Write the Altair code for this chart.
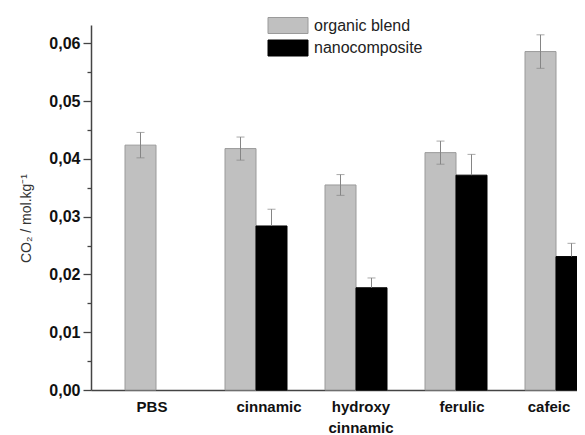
import altair as alt
import pandas as pd

cats = ["PBS", "cinnamic", "hydroxy cinnamic", "ferulic", "cafeic"]
series = ["organic blend", "nanocomposite"]

blend = [0.0424, 0.0418, 0.0355, 0.0411, 0.0586]
blend_err = [0.0022, 0.0020, 0.0018, 0.0020, 0.0029]

nano_cats = ["cinnamic", "hydroxy cinnamic", "ferulic", "cafeic"]
nano = [0.0284, 0.0177, 0.0372, 0.0231]
nano_err = [0.0029, 0.0017, 0.0036, 0.0023]

major_ticks = [0.0, 0.01, 0.02, 0.03, 0.04, 0.05, 0.06]
minor_ticks = [0.005, 0.015, 0.025, 0.035, 0.045, 0.055]

rows = []
for c, v, e in zip(cats, blend, blend_err):
    # lower whisker is visible on the light bars
    rows.append({"cat": c, "series": series[0], "val": v, "lo": v - e, "hi": v + e})
for c, v, e in zip(nano_cats, nano, nano_err):
    # lower whisker is hidden inside the black bars
    rows.append({"cat": c, "series": series[1], "val": v, "lo": v, "hi": v + e})
df = pd.DataFrame(rows)

FONT = "Liberation Sans"

label_shift = {
    "condition": [
        {"test": "datum.value == 'PBS'", "value": -4},
        {"test": "datum.value == 'cinnamic'", "value": 13},
        {"test": "datum.value == 'hydroxy cinnamic'", "value": 5},
        {"test": "datum.value == 'ferulic'", "value": 6},
        {"test": "datum.value == 'cafeic'", "value": -7},
    ],
    "value": 0,
}

x_scale = alt.Scale(range=[0, 530], paddingInner=0.38, paddingOuter=0.34)
x_enc = alt.X(
    "cat:N",
    sort=cats,
    scale=x_scale,
    axis=alt.Axis(
        title=None,
        labelExpr="split(datum.value, ' ')",
        labelFont=FONT,
        labelFontSize=15,
        labelFontWeight="bold",
        labelColor="#111",
        labelAngle=0,
        labelPadding=9,
        labelLineHeight=21,
        labelOffset=label_shift,
        ticks=False,
        domainColor="#444",
        domainWidth=1.5,
    ),
)
xoff = alt.XOffset("series:N", sort=series, scale=alt.Scale(paddingInner=0, paddingOuter=0))
y_scale = alt.Scale(domain=[0, 0.0632], nice=False, zero=True)

bars = alt.Chart(df).mark_bar(strokeWidth=1).encode(
    x=x_enc,
    xOffset=xoff,
    y=alt.Y(
        "val:Q",
        scale=y_scale,
        axis=alt.Axis(
            values=major_ticks,
            labelExpr="replace(format(datum.value, '.2f'), '.', ',')",
            labelFont=FONT,
            labelFontSize=16,
            labelFontWeight="bold",
            labelColor="#111",
            labelPadding=3,
            tickSize=8,
            tickColor="#444",
            tickWidth=1.3,
            domainColor="#444",
            domainWidth=1.5,
            grid=False,
            title="CO₂ / mol.kg⁻¹",
            titleFont=FONT,
            titleFontSize=14,
            titleFontWeight="normal",
            titleColor="#333",
            titleAngle=-90,
            titleAlign="center",
            titleBaseline="alphabetic",
            titleX=-61,
            titleY=193,
        ),
    ),
    color=alt.Color(
        "series:N",
        sort=series,
        scale=alt.Scale(domain=series, range=["#c0c0c0", "#000000"]),
        legend=alt.Legend(
            title=None,
            orient="none",
            legendX=189,
            legendY=-7.5,
            symbolType="M-5,-2H5V2H-5Z",
            symbolSize=64,
            symbolStrokeColor="#999",
            symbolStrokeWidth=1,
            symbolOpacity=1,
            labelFont=FONT,
            labelFontSize=16,
            labelColor="#222",
            labelOffset=18,
            rowPadding=2.5,
            padding=0,
        ),
    ),
    stroke=alt.Stroke(
        "series:N",
        sort=series,
        scale=alt.Scale(domain=series, range=["#9a9a9a", "#000000"]),
        legend=None,
    ),
)

err_rule = alt.Chart(df).mark_rule(color="#858585", strokeWidth=1).encode(
    x=alt.X("cat:N", sort=cats),
    xOffset=xoff,
    y=alt.Y("lo:Q", scale=y_scale,
            axis=alt.Axis(values=minor_ticks, labels=False, domain=False, grid=False,
                          tickSize=4, tickColor="#444", tickWidth=1.3, title=None, orient="left")),
    y2="hi:Q",
)
cap_hi = alt.Chart(df).mark_tick(color="#858585", size=8, thickness=1).encode(
    x=alt.X("cat:N", sort=cats),
    xOffset=xoff,
    y=alt.Y("hi:Q", scale=y_scale, axis=None),
)
cap_lo = alt.Chart(df).transform_filter(
    alt.datum.series == series[0]
).mark_tick(color="#858585", size=8, thickness=1).encode(
    x=alt.X("cat:N", sort=cats),
    xOffset=xoff,
    y=alt.Y("lo:Q", scale=y_scale, axis=None),
)

chart = (
    alt.layer(bars, err_rule, cap_hi, cap_lo)
    .resolve_axis(y="independent")
    .properties(
        width=486,
        height=365,
        autosize=alt.AutoSizeParams(type="none"),
        padding={"left": 83, "top": 17, "right": 0, "bottom": 45},
        background="white",
    )
    .configure_view(stroke=None)
)

chart.save("out.html", embed_options={"renderer": "svg", "actions": False})
